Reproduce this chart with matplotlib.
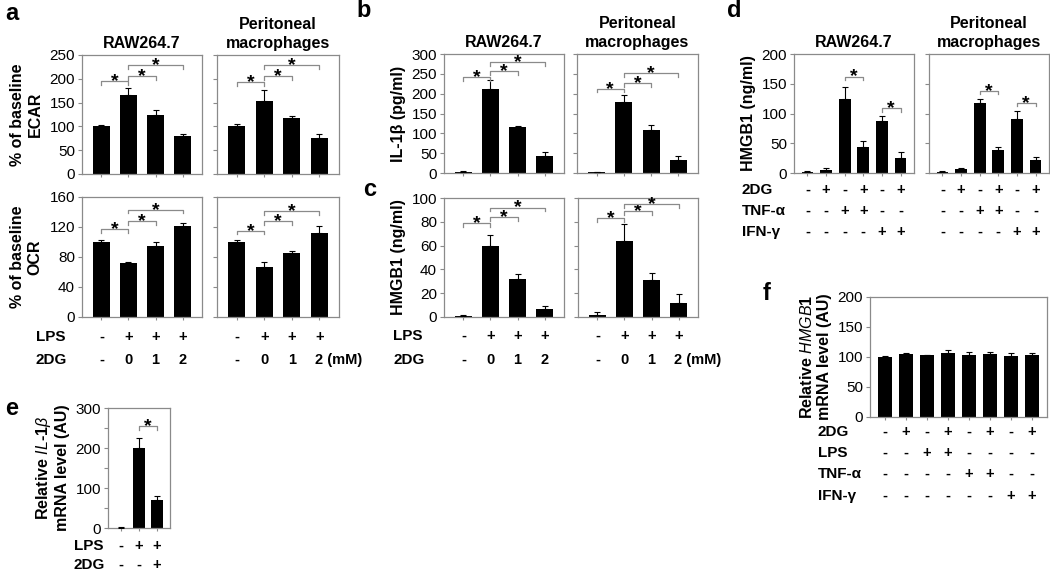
import matplotlib
matplotlib.use("Agg")
import matplotlib.pyplot as plt
from matplotlib.transforms import blended_transform_factory

plt.rcParams['font.family'] = ['Liberation Sans', 'DejaVu Sans']
plt.rcParams['mathtext.fontset'] = 'custom'
plt.rcParams['mathtext.it'] = 'Liberation Sans:italic'
plt.rcParams['mathtext.rm'] = 'Liberation Sans:bold'

# ---- data ----
ecar_raw = [100, 167, 124, 79]
ecar_raw_err = [2, 14, 11, 5]
ecar_per = [100, 154, 117, 75]
ecar_per_err = [5, 23, 4, 9]
ocr_raw = [100, 72, 95, 121]
ocr_raw_err = [3, 2, 5, 5]
ocr_per = [100, 67, 85, 112]
ocr_per_err = [3, 6, 3, 9]
il1b_raw = [2, 212, 115, 44]
il1b_raw_err = [4, 23, 4, 9]
il1b_per = [2, 180, 108, 33]
il1b_per_err = [1, 16, 12, 11]
hmgb1_raw = [1, 60, 32, 7]
hmgb1_raw_err = [1, 9, 4, 2]
hmgb1_per = [2, 64, 31, 12]
hmgb1_per_err = [2, 14, 6, 7]
cyt_raw = [2, 5, 124, 43, 88, 25]
cyt_raw_err = [1, 3.5, 21, 10, 8, 9.5]
cyt_per = [2, 6, 117, 39, 91, 22]
cyt_per_err = [1, 2, 7, 5, 14, 4.5]
il1b_mrna = [1, 200, 69]
il1b_mrna_err = [1, 25, 11]
hmgb1_mrna = [100, 105, 103, 107, 103, 105, 101, 104]
hmgb1_mrna_err = [1, 1, 1, 5, 5, 4, 5, 3]

lps_a = ['-', '+', '+', '+']
dg_a = ['-', '0', '1', '2']
dg_d = ['-', '+', '-', '+', '-', '+']
tnf_d = ['-', '-', '+', '+', '-', '-']
ifn_d = ['-', '-', '-', '-', '+', '+']
lps_e = ['-', '+', '+']
dg_e = ['-', '-', '+']
dg_f = ['-', '+', '-', '+', '-', '+', '-', '+']
lps_f = ['-', '-', '+', '+', '-', '-', '-', '-']
tnf_f = ['-', '-', '-', '-', '+', '+', '-', '-']
ifn_f = ['-', '-', '-', '-', '-', '-', '+', '+']

W, H = 1050, 571
GREY = '#8a8a8a'
fig = plt.figure(figsize=(W / 100, H / 100), dpi=100)


def make_ax(l, t, r, b):
    return fig.add_axes([l / W, 1 - b / H, (r - l) / W, (b - t) / H])


def bars(ax, vals, errs, ymax, step, labels=True, label_step=None):
    n = len(vals)
    x = list(range(n))
    ax.bar(x, vals, width=0.63, color='black', zorder=2)
    ax.errorbar(x, vals, yerr=[[0] * n, errs], fmt='none', ecolor='black',
                elinewidth=0.8, capsize=2, capthick=0.8, zorder=3)
    ax.set_xlim(-0.72, n - 1 + 0.72)
    ax.set_ylim(0, ymax)
    ticks = list(range(0, ymax + 1, step))
    ax.set_yticks(ticks)
    if labels:
        if label_step:
            ax.set_yticklabels([str(t) if t % label_step == 0 else '' for t in ticks])
    else:
        ax.set_yticklabels([])
    ax.set_xticks(x)
    ax.set_xticklabels([])
    for s in ax.spines.values():
        s.set_color(GREY)
        s.set_linewidth(0.9)
    ax.tick_params(axis='y', direction='out', length=3, width=0.8, color=GREY,
                   labelsize=11, pad=2)
    ax.tick_params(axis='x', direction='out', length=2, width=0.8, color=GREY)


def bracket(ax, x1, x2, y):
    h = ax.get_ylim()[1] * 0.03
    ax.plot([x1, x1, x2, x2], [y - h, y, y, y - h], color=GREY, lw=0.9,
            clip_on=False, zorder=4)
    ax.annotate('*', xy=((x1 + x2) / 2, y), xytext=(0, -3.5),
                textcoords='offset points', ha='center', va='baseline',
                fontsize=14, fontweight='bold', annotation_clip=False)


def row(ax, labels, ypx, size=10.5):
    tr = blended_transform_factory(ax.transData, fig.transFigure)
    for i, s in enumerate(labels):
        fig.text(i, 1 - ypx / H, s, transform=tr, ha='center', va='center',
                 fontsize=size, fontweight='bold')


def row_label(s, xpx, ypx):
    fig.text(xpx / W, 1 - ypx / H, s, ha='left', va='center', fontsize=11,
             fontweight='bold')


def panel(s, xpx, ypx):
    fig.text(xpx / W, 1 - ypx / H, s, ha='left', va='baseline', fontsize=17,
             fontweight='bold')


title_kw = dict(fontsize=11.5, fontweight='bold', pad=5, linespacing=1.3)
ylab_kw = dict(fontsize=11.5, fontweight='bold')

# ---- panel a ----
a1 = make_ax(82, 55, 202, 174)
bars(a1, ecar_raw, ecar_raw_err, 250, 50)
a1.set_title('RAW264.7', **title_kw)
a1.set_ylabel('% of baseline\nECAR', labelpad=5, **ylab_kw)
for x1, x2, y in [(0, 1, 195), (1, 2, 206), (1, 3, 229)]:
    bracket(a1, x1, x2, y)

a2 = make_ax(217, 55, 339, 174)
bars(a2, ecar_per, ecar_per_err, 250, 50, labels=False)
a2.set_title('Peritoneal\nmacrophages', **title_kw)
for x1, x2, y in [(0, 1, 193), (1, 2, 206), (1, 3, 229)]:
    bracket(a2, x1, x2, y)

a3 = make_ax(82, 197, 202, 317)
bars(a3, ocr_raw, ocr_raw_err, 160, 40)
a3.set_ylabel('% of baseline\nOCR', labelpad=5, **ylab_kw)
for x1, x2, y in [(0, 1, 117), (1, 2, 128), (1, 3, 143)]:
    bracket(a3, x1, x2, y)

a4 = make_ax(217, 197, 339, 317)
bars(a4, ocr_per, ocr_per_err, 160, 40, labels=False)
for x1, x2, y in [(0, 1, 115), (1, 2, 128), (1, 3, 141)]:
    bracket(a4, x1, x2, y)

for ax in (a3, a4):
    row(ax, lps_a, 337)
    row(ax, dg_a[:3] + ([dg_a[3]] if ax is a3 else ['']), 360)
tr = blended_transform_factory(a4.transData, fig.transFigure)
fig.text(3 - 0.17, 1 - 360 / H, dg_a[3] + ' (mM)', transform=tr, ha='left',
         va='center', fontsize=10.5, fontweight='bold')
row_label('LPS', 36, 337)
row_label('2DG', 36, 360)
panel('a', 5, 20)

# ---- panel b ----
b1 = make_ax(444, 54, 564, 173)
bars(b1, il1b_raw, il1b_raw_err, 300, 50)
b1.set_title('RAW264.7', **title_kw)
b1.set_ylabel('IL-1β (pg/ml)', labelpad=4, **ylab_kw)
for x1, x2, y in [(0, 1, 242), (1, 2, 257), (1, 3, 279)]:
    bracket(b1, x1, x2, y)

b2 = make_ax(577, 54, 698, 173)
bars(b2, il1b_per, il1b_per_err, 300, 50, labels=False)
b2.set_title('Peritoneal\nmacrophages', **title_kw)
for x1, x2, y in [(0, 1, 212), (1, 2, 227), (1, 3, 252)]:
    bracket(b2, x1, x2, y)
panel('b', 356, 17)

# ---- panel c ----
c1 = make_ax(444, 198, 564, 317)
bars(c1, hmgb1_raw, hmgb1_raw_err, 100, 20)
c1.set_ylabel('HMGB1 (ng/ml)', labelpad=4, **ylab_kw)
for x1, x2, y in [(0, 1, 79), (1, 2, 84), (1, 3, 92)]:
    bracket(c1, x1, x2, y)

c2 = make_ax(578, 198, 698, 317)
bars(c2, hmgb1_per, hmgb1_per_err, 100, 20, labels=False)
for x1, x2, y in [(0, 1, 83), (1, 2, 89), (1, 3, 95)]:
    bracket(c2, x1, x2, y)

for ax in (c1, c2):
    row(ax, lps_a, 336)
    row(ax, dg_a[:3] + ([dg_a[3]] if ax is c1 else ['']), 360)
tr = blended_transform_factory(c2.transData, fig.transFigure)
fig.text(3 - 0.17, 1 - 360 / H, dg_a[3] + ' (mM)', transform=tr, ha='left',
         va='center', fontsize=10.5, fontweight='bold')
row_label('LPS', 393, 336)
row_label('2DG', 393, 360)
panel('c', 363, 196)

# ---- panel d ----
d1 = make_ax(794, 54, 914, 173)
bars(d1, cyt_raw, cyt_raw_err, 200, 50)
d1.set_title('RAW264.7', **title_kw)
d1.set_ylabel('HMGB1 (ng/ml)', labelpad=4, **ylab_kw)
bracket(d1, 2, 3, 162)
bracket(d1, 4, 5, 109)

d2 = make_ax(929, 54, 1049, 173)
bars(d2, cyt_per, cyt_per_err, 200, 50, labels=False)
d2.set_title('Peritoneal\nmacrophages', **title_kw)
bracket(d2, 2, 3, 138)
bracket(d2, 4, 5, 118)

for ax in (d1, d2):
    row(ax, dg_d, 190)
    row(ax, tnf_d, 211)
    row(ax, ifn_d, 232)
row_label('2DG', 742, 190)
row_label('TNF-α', 742, 211)
row_label('IFN-γ', 742, 232)
panel('d', 727, 17)

# ---- panel e ----
e1 = make_ax(108, 408, 170, 528)
bars(e1, il1b_mrna, il1b_mrna_err, 300, 50, label_step=100)
e1.set_ylabel('Relative $\\mathit{IL}$-$\\mathit{1\\beta}$\nmRNA level (AU)',
              labelpad=4, **ylab_kw)
bracket(e1, 1, 2, 255)
row(e1, lps_e, 546)
row(e1, dg_e, 565)
row_label('LPS', 74, 546)
row_label('2DG', 74, 565)
panel('e', 5, 415)

# ---- panel f ----
f1 = make_ax(870, 297, 1047, 417)
bars(f1, hmgb1_mrna, hmgb1_mrna_err, 200, 50)
f1.set_ylabel('Relative $\\mathit{HMGB1}$\nmRNA level (AU)', labelpad=4,
              **ylab_kw)
row(f1, dg_f, 432)
row(f1, lps_f, 453)
row(f1, tnf_f, 474)
row(f1, ifn_f, 496)
row_label('2DG', 818, 432)
row_label('LPS', 818, 453)
row_label('TNF-α', 818, 474)
row_label('IFN-γ', 818, 496)
panel('f', 763, 300)

fig.savefig('out.png', dpi=100)
